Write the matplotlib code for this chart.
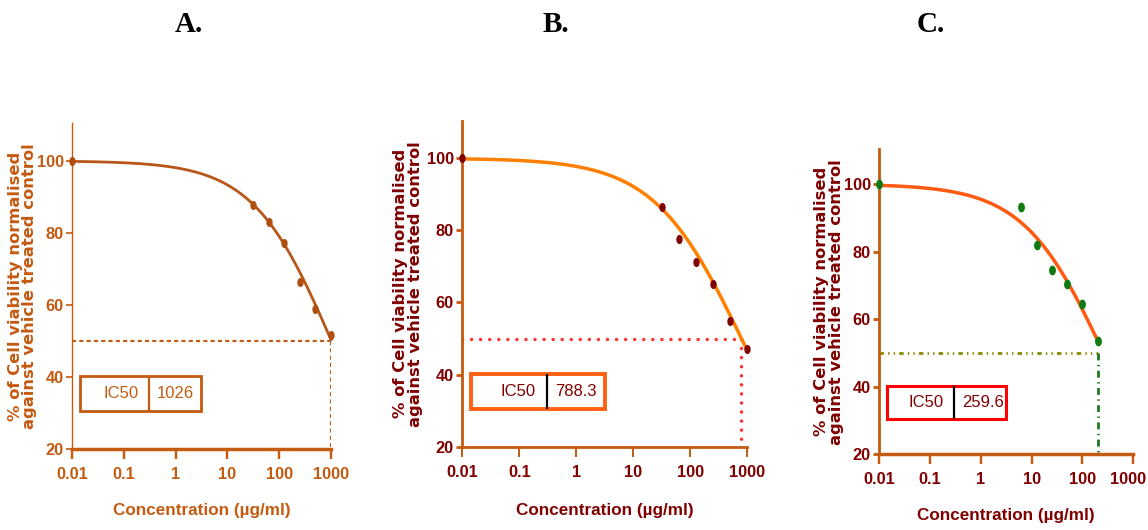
import numpy as np
import matplotlib.pyplot as plt
from matplotlib import font_manager
from matplotlib.patches import Rectangle
from matplotlib.transforms import ScaledTranslation

# panel letters
panel_titles = ['A.', 'B.', 'C.']

# concentration (ug/ml) and % viability
conc_a = [0.01, 31.25, 62.5, 125, 250, 500, 1000]
viab_a = [100, 87.8, 83.1, 77.3, 66.4, 58.9, 51.6]
conc_b = [0.01, 31.25, 62.5, 125, 250, 500, 1000]
viab_b = [100, 86.4, 77.6, 71.1, 65.1, 54.9, 47.2]
conc_c = [0.01, 6.25, 12.5, 25, 50, 100, 200]
viab_c = [100, 93.3, 81.9, 74.6, 70.4, 64.5, 53.6]

# fitted curve parameters (IC50 from the inset tables, slope estimated)
ic50_values = [1026, 788.3, 259.6]
ic50_labels = ['1026', '788.3', '259.6']
hill_slopes = [0.57, 0.564, 0.55]
guide_x = [1000, 788.3, 200]   # where the 50% guide line drops down

x_ticks = [0.01, 0.1, 1, 10, 100, 1000]
x_ticklabels = ['0.01', '0.1', '1', '10', '100', '1000']
y_ticks = [20, 40, 60, 80, 100]

ylabel_text = '% of Cell viability normalised\nagainst vehicle treated control'
xlabel_text = 'Concentration (\u00b5g/ml)'

names = {f.name for f in font_manager.fontManager.ttflist}
if 'Liberation Sans Narrow' in names:
    narrow = ['Liberation Sans Narrow', 'DejaVu Sans']
    k = 1.1
else:
    narrow = ['Liberation Sans', 'DejaVu Sans']
    k = 1.0

ORANGE = '#C55A11'
MAROON = '#800000'

styles = [
    dict(rect=[0.0627, 0.1528, 0.2256, 0.615], ytop=110.5, axis=ORANGE, text=ORANGE,
         curve='#B8561A', curve_lw=2.0, pt='#B04E10', ms=5.5,
         hline=ORANGE, vline=ORANGE, hls=(0, (2, 1.5)), vls=(0, (2, 1.5)), glw=1.5, gcap='butt',
         box=ORANGE, box_lw=2.0, div=ORANGE, ylw=1.0, xlw=2.5, xlab_y=-0.165,
         title_x=188.5, ylab_x=22.5),
    dict(rect=[0.4027, 0.1572, 0.2483, 0.615], ytop=110.4, axis=ORANGE, text=MAROON,
         curve='#FF8000', curve_lw=2.5, pt=MAROON, ms=5.5,
         hline='#FF3030', vline='#FF3030', hls=(0, (0.01, 2.6)), vls=(0, (0.01, 2.6)), glw=2.5, gcap='round',
         box='#FF6010', box_lw=2.8, div='black', ylw=2.0, xlw=2.0, xlab_y=-0.172,
         title_x=556, ylab_x=408),
    dict(rect=[0.7657, 0.1428, 0.2215, 0.5755], ytop=110.3, axis=ORANGE, text=MAROON,
         curve='#FF5A10', curve_lw=2.5, pt='#0F7A0F', ms=6.0,
         hline='#8A8A00', vline='#1E7B1E', hls=(0, (1.6, 1.5, 0.5, 1.5, 0.5, 1.5)),
         vls=(0, (2.5, 1.6, 0.5, 1.6)), glw=2.0, gcap='butt',
         box='#FF0000', box_lw=2.2, div='black', ylw=2.0, xlw=2.5, xlab_y=-0.176,
         title_x=931, ylab_x=829),
]

concs = [conc_a, conc_b, conc_c]
viabs = [viab_a, viab_b, viab_c]

# upright ellipse marker
t = np.linspace(0, 2 * np.pi, 40)
ellipse = list(zip(0.65 * np.cos(t), np.sin(t)))

fig = plt.figure(figsize=(11.48, 5.3), dpi=100)
W, H = 1148, 530

for i in range(3):
    s = styles[i]
    conc = concs[i]
    viab = viabs[i]
    ax = fig.add_axes(s['rect'])
    ax.set_xscale('log')
    ax.set_xlim(0.01, 1000)
    ax.set_ylim(20, s['ytop'])
    ax.patch.set_alpha(0)

    for side in ['top', 'right']:
        ax.spines[side].set_visible(False)
    ax.spines['left'].set_color(s['axis'])
    ax.spines['left'].set_linewidth(s['ylw'])
    ax.spines['bottom'].set_color(s['axis'])
    ax.spines['bottom'].set_linewidth(s['xlw'])

    ax.set_xticks(x_ticks)
    ax.set_xticklabels(x_ticklabels)
    ax.xaxis.set_minor_locator(plt.NullLocator())
    ax.set_yticks(y_ticks)
    ax.tick_params(axis='x', direction='out', length=7, width=s['xlw'] * 0.7,
                   color=s['axis'], labelcolor=s['text'], pad=6)
    ax.tick_params(axis='y', direction='out', length=4, width=max(s['ylw'], 1.2),
                   color=s['axis'], labelcolor=s['text'], pad=2)
    for lab in ax.get_xticklabels() + ax.get_yticklabels():
        lab.set_fontfamily(narrow)
        lab.set_fontweight('bold')
        lab.set_fontsize(11.8 * k)
    if i == 2:
        last = ax.get_xticklabels()[-1]
        last.set_transform(last.get_transform() + ScaledTranslation(-5 / 100, 0, fig.dpi_scale_trans))

    # fitted curve
    xs = np.logspace(np.log10(conc[0]), np.log10(conc[-1]), 300)
    ys = 100 / (1 + (xs / ic50_values[i]) ** hill_slopes[i])
    ax.plot(xs, ys, color=s['curve'], lw=s['curve_lw'], zorder=3, clip_on=False)
    ax.plot(conc, viab, linestyle='none', marker=ellipse, ms=s['ms'],
            color=s['pt'], zorder=4, clip_on=False)

    # 50% guide lines
    ax.plot([0.01, guide_x[i]], [50, 50], color=s['hline'], lw=s['glw'],
            linestyle=s['hls'], dash_capstyle=s['gcap'], zorder=2)
    ax.plot([guide_x[i], guide_x[i]], [50, 20.5], color=s['vline'], lw=s['glw'],
            linestyle=s['vls'], dash_capstyle=s['gcap'], zorder=2)

    # IC50 table
    bx0, bx1, by0, by1, bdiv = 0.03, 0.50, 0.116, 0.224, 0.296
    ax.add_patch(Rectangle((bx0, by0), bx1 - bx0, by1 - by0, transform=ax.transAxes,
                           facecolor='white', edgecolor=s['box'], lw=s['box_lw'], zorder=5))
    ax.plot([bdiv, bdiv], [by0, by1], transform=ax.transAxes, color=s['div'],
            lw=1.6, zorder=6, solid_capstyle='butt')
    ym = (by0 + by1) / 2
    ax.text(bdiv - 0.04, ym, 'IC50', transform=ax.transAxes, ha='right', va='center',
            color=s['text'], fontsize=12 * k, family=narrow, zorder=7)
    ax.text(bdiv + 0.03, ym, ic50_labels[i], transform=ax.transAxes, ha='left', va='center',
            color=s['text'], fontsize=12 * k, family=narrow, zorder=7)

    ax.set_xlabel(xlabel_text, color=s['text'], fontsize=12.3 * k,
                  fontweight='bold', family=narrow, va='top')
    ax.xaxis.set_label_coords(0.5, s['xlab_y'])

    # y label (two lines)
    yc = s['rect'][1] + s['rect'][3] / 2
    fig.text(s['ylab_x'] / W, yc, ylabel_text, rotation=90, ha='center', va='center',
             multialignment='center', color=s['text'], fontsize=11.8, fontweight='bold',
             family=['DejaVu Sans'], linespacing=0.95)

    fig.text(s['title_x'] / W, 1 - 25 / H, panel_titles[i], ha='center', va='center',
             fontsize=21, fontweight='bold', family=['Liberation Serif', 'DejaVu Serif'])

fig.savefig('out.png', dpi=100)
